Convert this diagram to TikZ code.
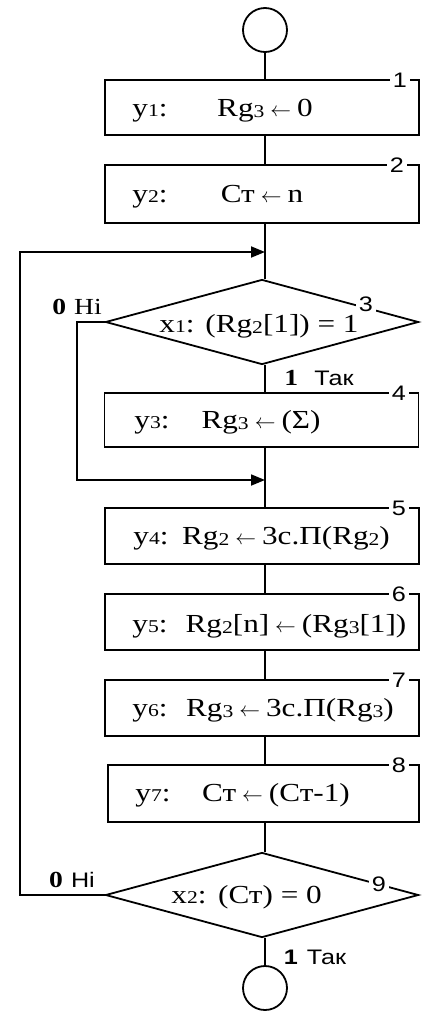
\documentclass[tikz,border=0pt]{standalone}
\usepackage{fontspec}
\setmainfont{Liberation Serif}[FakeStretch=1.2]
\newfontfamily\sansf{Liberation Sans}[FakeStretch=1.2]
\usetikzlibrary{arrows.meta,shapes.geometric}
\newcommand{\sbs}[1]{\raisebox{-0.12ex}{\fontsize{18}{18}\selectfont #1}}
\newcommand{\ysb}[1]{{\fontsize{18}{18}\selectfont #1}}
\newcommand{\la}{\hspace{6pt}{\fontsize{20}{20}\selectfont$\leftarrow$}\hspace{6pt}}
\begin{document}
\begin{tikzpicture}[x=1pt,y=-1pt,line width=1.8pt,
  box/.style={draw,minimum width=314pt,minimum height=#1,inner sep=0pt},
  dia/.style={draw,diamond,minimum width=313pt,minimum height=85pt,inner sep=0pt},
  term/.style={draw,circle,minimum size=44pt,inner sep=0pt},
  num/.style={fill=white,inner sep=3pt,font=\sansf\fontsize{21}{21}\selectfont},
  txt/.style={anchor=base,inner sep=0pt,font=\fontsize{26}{26}\selectfont},
  lbl/.style={inner sep=0pt,font=\fontsize{23}{23}\selectfont},
  arr/.style={-{Triangle[length=14pt,width=11pt]}}]
\useasboundingbox (0,0) rectangle (424,1015);
% terminals
\node[term] (start) at (265,30) {};
\node[term] (stop) at (265,988) {};
% boxes
\node[box=55pt] (b1) at (262,107.5) {};
\node[box=58pt] (b2) at (262,194) {};
\node[dia] (d3) at (262,322) {};
\node[box=54pt] (b4) at (261.5,420) {};
\node[box=56pt] (b5) at (262,536) {};
\node[box=56pt] (b6) at (262,622) {};
\node[box=56pt] (b7) at (262,708) {};
\node[box=57pt,minimum width=311pt] (b8) at (263.5,793.5) {};
\node[dia] (d9) at (262,895) {};
% merge points
\coordinate (m1) at (265,252);
\coordinate (m2) at (265,480);
% connectors
\draw (start.south) -- (start.south |- b1.north);
\draw (m1 |- b1.south) -- (m1 |- b2.north);
\draw (m1 |- b2.south) -- (m1 |- d3.north);
\draw (m1 |- d3.south) -- (m1 |- b4.north);
\draw (m1 |- b4.south) -- (m1 |- b5.north);
\draw (m1 |- b5.south) -- (m1 |- b6.north);
\draw (m1 |- b6.south) -- (m1 |- b7.north);
\draw (m1 |- b7.south) -- (m1 |- b8.north);
\draw (m1 |- b8.south) -- (m1 |- d9.north);
\draw (m1 |- d9.south) -- (stop.north);
\draw[arr] (d3.west) -- (77,322) |- (m2);
\draw[arr] (d9.west) -- (20,895) |- (m1);
% numbers
\node[num] (n1) at (400,80) {1};
\node[num] (n2) at (397,165) {2};
\node[num] (n3) at (366,304) {3};
\node[num] (n4) at (399,393) {4};
\node[num] (n5) at (399,508) {5};
\node[num] (n6) at (399,594) {6};
\node[num] (n7) at (399,680) {7};
\node[num] (n8) at (399,765) {8};
\node[num] (n9) at (379,884) {9};
% texts
\node[txt] (t1a) at (150,116) {y\ysb{1}:};
\node[txt] (t1b) at (265,116) {Rg\sbs{3}\la 0};
\node[txt] (t2a) at (150,202) {y\ysb{2}:};
\node[txt] (t2b) at (262,202) {Ст\la n};
\node[txt] (t3a) at (177,332) {x\ysb{1}:};
\node[txt] (t3b) at (282,332) {(Rg\sbs{2}[1]) = 1};
\node[txt] (t4a) at (152,428) {y\ysb{3}:};
\node[txt] (t4b) at (261,428) {Rg\sbs{3}\la (Σ)};
\node[txt] (t5a) at (151,544) {y\ysb{4}:};
\node[txt] (t5b) at (286,544) {Rg\sbs{2}\la 3с.П(Rg\sbs{2})};
\node[txt] (t6a) at (150,632) {y\ysb{5}:};
\node[txt] (t6b) at (296,632) {Rg\sbs{2}[n]\la (Rg\sbs{3}[1])};
\node[txt] (t7a) at (150,716) {y\ysb{6}:};
\node[txt] (t7b) at (290,716) {Rg\sbs{3}\la 3с.П(Rg\sbs{3})};
\node[txt] (t8a) at (153,801) {y\ysb{7}:};
\node[txt] (t8b) at (276,801) {Ст\la (Ст-1)};
\node[txt] (t9a) at (189,903) {x\ysb{2}:};
\node[txt] (t9b) at (270,903) {(Ст) = 0};
% branch labels
\node[lbl] (l0a) at (77,307) {\textbf{0}\hspace{8pt}Ні};
\node[lbl] (l1a) at (319,378) {\textbf{1}\hspace{16pt}{\sansf\fontsize{21}{21}\selectfont Так}};
\node[lbl] (l0b) at (72,880) {\textbf{0}\hspace{8pt}{\sansf\fontsize{21}{21}\selectfont Ні}};
\node[lbl] (l1b) at (315,957) {{\sansf\fontsize{21}{21}\selectfont\bfseries 1\hspace{9pt}\mdseries Так}};
\end{tikzpicture}
\end{document}
